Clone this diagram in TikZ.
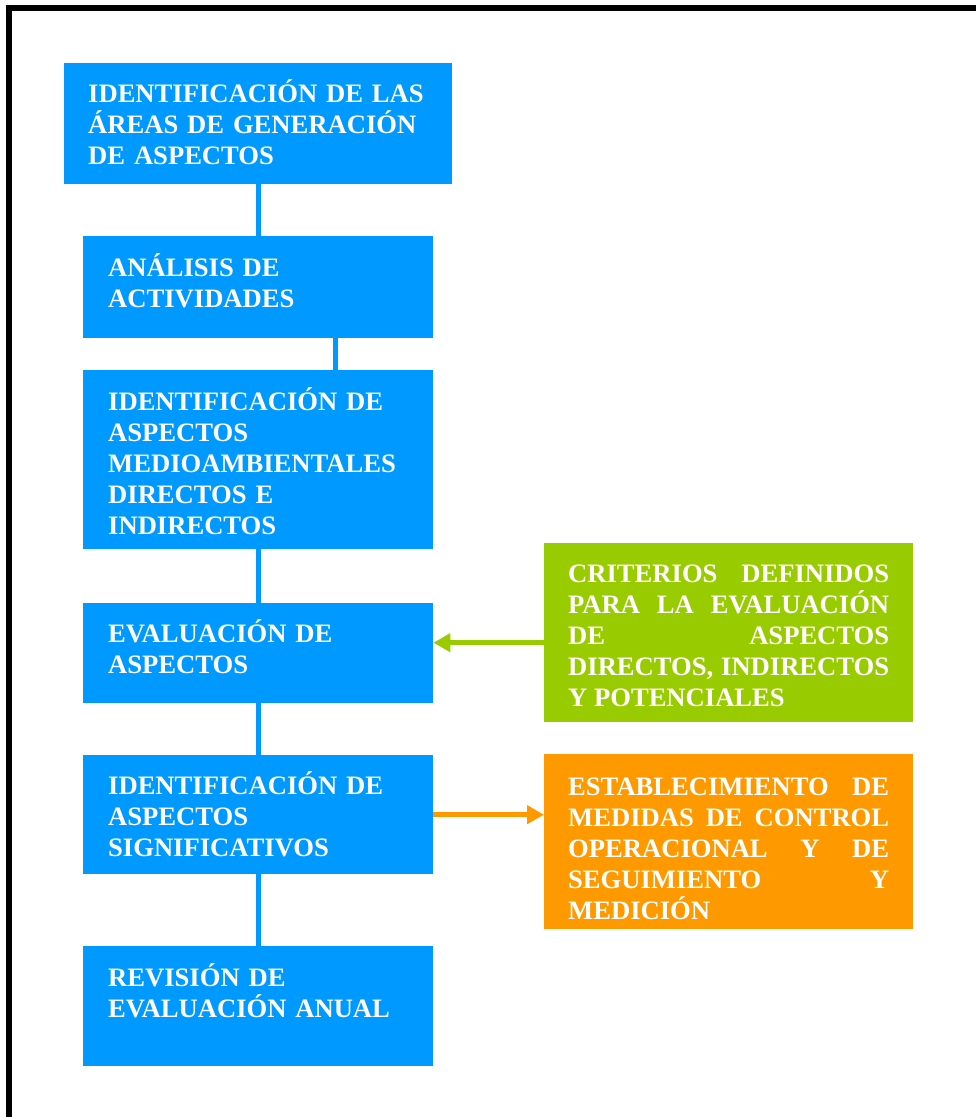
\documentclass[tikz,border=0pt]{standalone}
\usepackage{fontspec}
\setmainfont{Liberation Serif}
\usetikzlibrary{arrows.meta,positioning}
\definecolor{azul}{RGB}{0,153,255}
\definecolor{verde}{RGB}{153,204,0}
\definecolor{naranja}{RGB}{255,153,0}
\hyphenpenalty=10000
\exhyphenpenalty=10000

\begin{document}
\begin{tikzpicture}[x=1pt,y=-1pt,
	caja/.style={fill=#1,text=white,anchor=north west,inner ysep=0pt,text height=39pt,
		font=\bfseries\fontsize{26.6}{31}\selectfont},
	azulbox/.style={caja=azul,align=left,text width=300pt,inner xsep=25pt},
	colorbox/.style={caja=#1,align=justify,text width=321pt,inner xsep=24pt},
	linea/.style={draw=azul,line width=5pt},
	flecha/.style={draw=#1,line width=5pt,-{Triangle[length=17pt,width=18pt]}}]
	\clip (0,0) rectangle (976,1117);
	\draw[line width=6pt] (9,8) rectangle (1000,1140);
	
	% columna principal
	\node[caja=azul,align=left,text width=340pt,inner xsep=24pt,text depth=82pt] (b1) at (64,63)
		{IDENTIFICACIÓN DE LAS\\ÁREAS DE GENERACIÓN\\DE ASPECTOS};
	\node[azulbox,text height=40pt,text depth=62pt] (b2) at (83,236) {ANÁLISIS DE\\ACTIVIDADES};
	\node[azulbox,text height=40pt,text depth=139pt] (b3) at (83,370)
		{IDENTIFICACIÓN DE\\ASPECTOS\\MEDIOAMBIENTALES\\DIRECTOS E\\INDIRECTOS};
	\node[azulbox,text depth=61pt] (b4) at (83,603) {EVALUACIÓN DE\\ASPECTOS};
	\node[azulbox,text depth=80pt] (b5) at (83,755) {IDENTIFICACIÓN DE\\ASPECTOS\\SIGNIFICATIVOS};
	\node[azulbox,text height=40pt,text depth=80pt] (b6) at (83,946) {REVISIÓN DE\\EVALUACIÓN ANUAL};
	
	% cajas laterales
	\node[colorbox=verde,text depth=140pt] (v) at (544,543)
		{CRITERIOS DEFINIDOS\linebreak PARA LA EVALUACIÓN\linebreak DE ASPECTOS\linebreak
		DIRECTOS, INDIRECTOS\linebreak Y POTENCIALES};
	\node[colorbox=naranja,text height=41pt,text depth=134pt] (n) at (544,754)
		{ESTABLECIMIENTO DE\linebreak MEDIDAS DE CONTROL\linebreak OPERACIONAL Y DE\linebreak
		SEGUIMIENTO Y\linebreak MEDICIÓN};
	
	\draw[linea] (b1) -- (b2);
	\draw[linea] ([xshift=77pt]b2.south) -- ([xshift=77pt]b3.north);
	\draw[linea] (b3) -- (b4);
	\draw[linea] (b4) -- (b5);
	\draw[linea] (b5) -- (b6);
	
	\draw[flecha=verde] ([yshift=-10pt]v.west) -- ([yshift=-10pt]v.west -| b4.east);
	\draw[flecha=naranja] (b5.east) -- (b5.east -| n.west);
\end{tikzpicture}
\end{document}
